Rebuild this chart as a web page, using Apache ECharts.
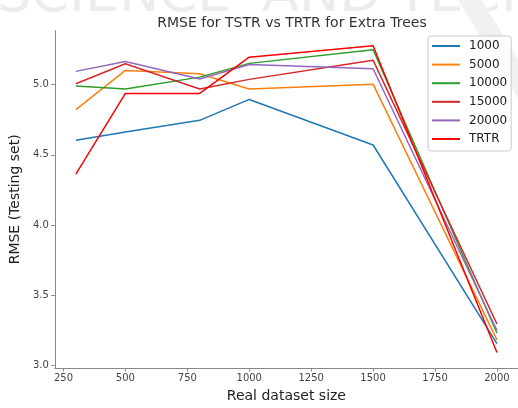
<!DOCTYPE html>
<html>
<head>
<meta charset="utf-8">
<script src="https://cdn.jsdelivr.net/npm/echarts@6/dist/echarts.min.js"></script>
<style>html,body{margin:0;padding:0;background:#fff}#c{width:518px;height:408px}</style>
</head>
<body>
<div id="c"></div>
<script>
const sizes = [300, 500, 800, 1000, 1500, 2000];
const seriesNames = ['1000', '5000', '10000', '15000', '20000', 'TRTR'];
const s1000  = [4.604, 4.663, 4.746, 4.895, 4.570, 3.154];
const s5000  = [4.822, 5.102, 5.078, 4.969, 5.004, 3.180];
const s10000 = [4.990, 4.969, 5.054, 5.152, 5.249, 3.230];
const s15000 = [5.007, 5.149, 4.969, 5.038, 5.175, 3.294];
const s20000 = [5.095, 5.166, 5.040, 5.144, 5.114, 3.247];
const trtr   = [4.362, 4.938, 4.938, 5.196, 5.278, 3.090];
const xTicks = [250, 500, 750, 1000, 1250, 1500, 1750, 2000];
const yTicks = [3.0, 3.5, 4.0, 4.5, 5.0];

const colors = ['#1f77b4', '#ff7f0e', '#2ca02c', '#d62728', '#9467bd', '#ff0000'];
const allVals = [s1000, s5000, s10000, s15000, s20000, trtr];
const FONT = 'DejaVu Sans';

const chart = echarts.init(document.getElementById('c'), null, {renderer: 'canvas'});
const wm = (text, x) => ({type: 'text', x: x, y: 24, z: -10, silent: true,
  style: {text: text, font: '54px "DejaVu Sans"', fill: '#ececec', verticalAlign: 'bottom'}});
const option = {
  animation: false,
  backgroundColor: '#fff',
  color: colors,
  title: {
    text: 'RMSE for TSTR vs TRTR for Extra Trees',
    left: 287, top: 11, textAlign: 'center',
    textStyle: {fontFamily: FONT, fontSize: 14, fontWeight: 'normal', color: '#333'}
  },
  graphic: [
    wm('SCIENCE', -3), wm('AND', 262), wm('TECH', 396),
    {type: 'polygon', z: -10, silent: true,
      shape: {points: [[458, 0], [482, 0], [530, 80], [530, 118]]},
      style: {fill: '#f1f1f1'}}
  ],
  grid: {left: 54.7, top: 30.7, width: 464.3, height: 337.6, containLabel: false},
  legend: {
    left: 428, top: 36, orient: 'vertical',
    padding: [3, 4, 5, 4],
    itemWidth: 28, itemHeight: 2, itemGap: 4.6,
    backgroundColor: 'rgba(255,255,255,0.8)',
    borderColor: '#cccccc', borderWidth: 1, borderRadius: 3,
    textStyle: {fontFamily: FONT, fontSize: 12, color: '#222', lineHeight: 14, padding: [0, 0, 0, 4]},
    data: seriesNames.map(n => ({name: n, icon: 'rect'}))
  },
  xAxis: {
    type: 'value', min: 215, max: 2085,
    name: 'Real dataset size', nameLocation: 'middle', nameGap: 21,
    nameTextStyle: {fontFamily: FONT, fontSize: 14, color: '#222'},
    splitLine: {show: false},
    axisLine: {show: true, onZero: false, lineStyle: {color: '#888', width: 1}},
    axisTick: {show: true, length: 3.5, lineStyle: {color: '#888'}, customValues: xTicks},
    axisLabel: {fontFamily: FONT, fontSize: 10, color: '#444', margin: 5, customValues: xTicks,
      formatter: v => String(v)}
  },
  yAxis: {
    type: 'value', min: 2.98, max: 5.385,
    name: 'RMSE (Testing set)', nameLocation: 'middle', nameGap: 26,
    nameTextStyle: {fontFamily: FONT, fontSize: 14, color: '#222'},
    splitLine: {show: false},
    axisLine: {show: true, onZero: false, lineStyle: {color: '#888', width: 1}},
    axisTick: {show: true, length: 3.5, lineStyle: {color: '#888'}, customValues: yTicks},
    axisLabel: {fontFamily: FONT, fontSize: 10, color: '#444', margin: 6, customValues: yTicks,
      formatter: v => Number(v).toFixed(1)}
  },
  series: seriesNames.map((n, i) => ({
    name: n, type: 'line', symbol: 'none', z: 2 + i,
    lineStyle: {width: 1.5, color: colors[i]},
    itemStyle: {color: colors[i]},
    data: sizes.map((x, j) => [x, allVals[i][j]])
  }))
};
chart.setOption(option);
</script>
</body>
</html>
